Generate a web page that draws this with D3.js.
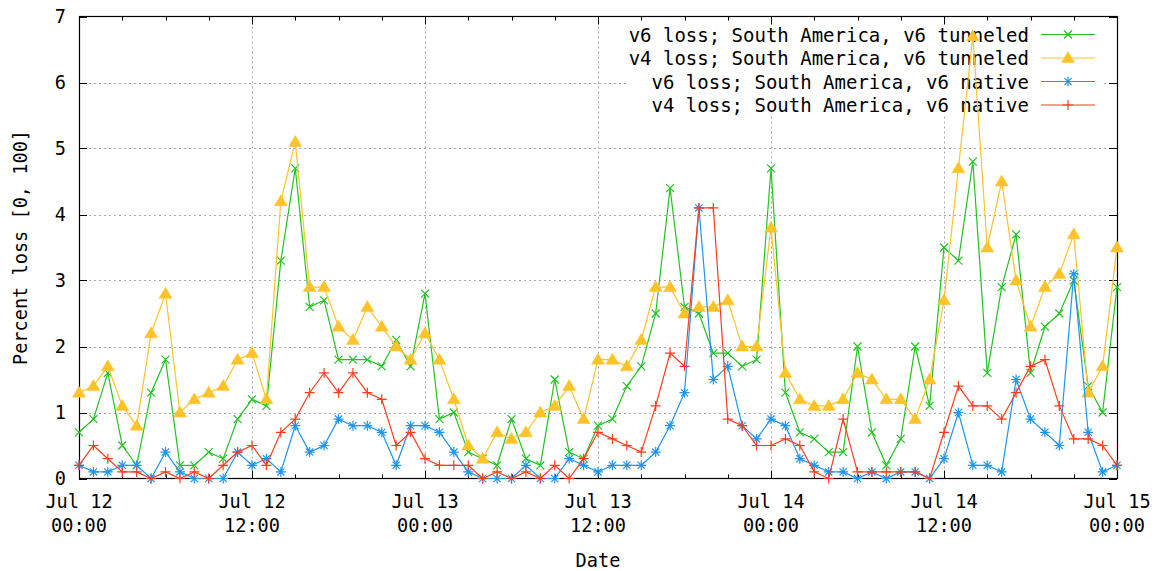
<!DOCTYPE html>
<html>
<head>
<meta charset="utf-8">
<script src="https://cdn.jsdelivr.net/npm/d3@7"></script>
<style>
  body { margin: 0; background: #fff; }
  text { font-family: "DejaVu Sans Mono", monospace; font-size: 18.6px; fill: #000; }
  .key text { font-size: 19px; }
</style>
</head>
<body>
<div id="graph"></div>
<script>
// hourly samples, Jul 12 00:00 -> Jul 15 00:00
const v6Tunneled = [0.7, 0.9, 1.6, 0.5, 0.2, 1.3, 1.8, 0.2, 0.2, 0.4, 0.3, 0.9, 1.2,
  1.1, 3.3, 4.7, 2.6, 2.7, 1.8, 1.8, 1.8, 1.7, 2.1, 1.7, 2.8,
  0.9, 1.0, 0.4, 0.3, 0.2, 0.9, 0.3, 0.2, 1.5, 0.4, 0.3, 0.8,
  0.9, 1.4, 1.7, 2.5, 4.4, 2.6, 2.5, 1.9, 1.9, 1.7, 1.8, 4.7,
  1.3, 0.7, 0.6, 0.4, 0.4, 2.0, 0.7, 0.2, 0.6, 2.0, 1.1, 3.5,
  3.3, 4.8, 1.6, 2.9, 3.7, 1.6, 2.3, 2.5, 3.0, 1.4, 1.0, 2.9];

const v4Tunneled = [1.3, 1.4, 1.7, 1.1, 0.8, 2.2, 2.8, 1.0, 1.2, 1.3, 1.4, 1.8, 1.9,
  1.2, 4.2, 5.1, 2.9, 2.9, 2.3, 2.1, 2.6, 2.3, 2.0, 1.8, 2.2,
  1.8, 1.2, 0.5, 0.3, 0.7, 0.6, 0.7, 1.0, 1.1, 1.4, 0.9, 1.8,
  1.8, 1.7, 2.1, 2.9, 2.9, 2.5, 2.6, 2.6, 2.7, 2.0, 2.0, 3.8,
  1.6, 1.2, 1.1, 1.1, 1.2, 1.6, 1.5, 1.2, 1.2, 0.9, 1.5, 2.7,
  4.7, 6.7, 3.5, 4.5, 3.0, 2.3, 2.9, 3.1, 3.7, 1.3, 1.7, 3.5];

const v6Native = [0.2, 0.1, 0.1, 0.2, 0.2, 0, 0.4, 0.1, 0, 0, 0, 0.4, 0.2,
  0.3, 0.1, 0.8, 0.4, 0.5, 0.9, 0.8, 0.8, 0.7, 0.2, 0.8, 0.8,
  0.7, 0.4, 0.1, 0, 0, 0, 0.2, 0, 0, 0.3, 0.2, 0.1,
  0.2, 0.2, 0.2, 0.4, 0.8, 1.3, 4.1, 1.5, 1.7, 0.8, 0.6, 0.9,
  0.8, 0.3, 0.2, 0.1, 0.1, 0, 0.1, 0, 0.1, 0.1, 0, 0.3,
  1.0, 0.2, 0.2, 0.1, 1.5, 0.9, 0.7, 0.5, 3.1, 0.7, 0.1, 0.2];

const v4Native = [0.2, 0.5, 0.3, 0.1, 0.1, 0, 0.1, 0, 0.1, 0, 0.2, 0.4, 0.5,
  0.2, 0.7, 0.9, 1.3, 1.6, 1.3, 1.6, 1.3, 1.2, 0.5, 0.7, 0.3,
  0.2, 0.2, 0.2, 0, 0.1, 0, 0.1, 0, 0.2, 0, 0.3, 0.7,
  0.6, 0.5, 0.4, 1.1, 1.9, 1.7, 4.1, 4.1, 0.9, 0.8, 0.5, 0.5,
  0.6, 0.5, 0.1, 0, 0.9, 0.1, 0.1, 0.1, 0.1, 0.1, 0, 0.7,
  1.4, 1.1, 1.1, 0.9, 1.3, 1.7, 1.8, 1.1, 0.6, 0.6, 0.5, 0.2];

const seriesNames = [
  "v6 loss; South America, v6 tunneled",
  "v4 loss; South America, v6 tunneled",
  "v6 loss; South America, v6 native",
  "v4 loss; South America, v6 native"
];
const seriesValues = [v6Tunneled, v4Tunneled, v6Native, v4Native];
const seriesColors = ["#22c322", "#ffc32a", "#1e95f0", "#ff3c1e"];
const seriesMarks = ["cross", "triangle", "star", "plus"];

const yTicks = [0, 1, 2, 3, 4, 5, 6, 7];

const start = new Date(Date.UTC(2010, 6, 12));
const end = new Date(Date.UTC(2010, 6, 15));
const hours = d3.utcHour.range(start, d3.utcHour.offset(end, 1));

const width = 1156;
const height = 571;
const pLeft = 79, pRight = 1117, pTop = 16.5, pBottom = 478.5;

const svg = d3.select("#graph")
              .append("svg")
              .attr("width", width)
              .attr("height", height);

const xScale = d3.scaleUtc().domain([start, end]).range([pLeft, pRight]);
const yScale = d3.scaleLinear().domain([0, 7]).range([pBottom, pTop]);

const majorX = d3.utcHour.every(12).range(start, d3.utcHour.offset(end, 1));
const minorX = d3.utcHour.every(3).range(start, d3.utcHour.offset(end, 1));

// grid
const grid = svg.append("g")
                .attr("stroke", "#a8a8a8")
                .attr("stroke-width", 1)
                .attr("stroke-dasharray", "2,3");
grid.selectAll(".gy")
    .data(yTicks.slice(1, -1))
    .enter()
    .append("line")
    .attr("x1", pLeft).attr("x2", pRight)
    .attr("y1", d => Math.round(yScale(d)) + 0.5)
    .attr("y2", d => Math.round(yScale(d)) + 0.5);
grid.selectAll(".gx")
    .data(majorX.slice(1, -1))
    .enter()
    .append("line")
    .attr("y1", pTop).attr("y2", pBottom)
    .attr("x1", d => Math.round(xScale(d)) + 0.5)
    .attr("x2", d => Math.round(xScale(d)) + 0.5);

// key background hides the grid
svg.append("rect")
   .attr("x", 627).attr("y", pTop + 1)
   .attr("width", 476).attr("height", 96)
   .attr("fill", "#fff");

// ticks (inward, mirrored)
const ticks = svg.append("g").attr("stroke", "#000").attr("stroke-width", 1);
yTicks.forEach(v => {
  const yy = Math.round(yScale(v)) + 0.5;
  ticks.append("line").attr("x1", pLeft).attr("x2", pLeft + 8).attr("y1", yy).attr("y2", yy);
  ticks.append("line").attr("x1", pRight - 8).attr("x2", pRight).attr("y1", yy).attr("y2", yy);
});
minorX.forEach((d, i) => {
  const xx = Math.round(xScale(d)) + 0.5;
  const len = i % 4 === 0 ? 8 : 4;
  ticks.append("line").attr("x1", xx).attr("x2", xx).attr("y1", pBottom).attr("y2", pBottom - len);
  ticks.append("line").attr("x1", xx).attr("x2", xx).attr("y1", pTop).attr("y2", pTop + len);
});

// y tick labels
svg.append("g")
   .selectAll("text")
   .data(yTicks)
   .enter()
   .append("text")
   .attr("x", pLeft - 13)
   .attr("y", d => yScale(d))
   .attr("dy", "0.36em")
   .style("text-anchor", "end")
   .text(d => d);

// x tick labels, two lines
const fmtDay = d3.utcFormat("%b %d");
const fmtTime = d3.utcFormat("%H:%M");
const xl = svg.append("g")
              .selectAll("text")
              .data(majorX)
              .enter()
              .append("text")
              .attr("x", d => xScale(d))
              .style("text-anchor", "middle");
xl.append("tspan").attr("x", d => xScale(d)).attr("y", 508).text(d => fmtDay(d));
xl.append("tspan").attr("x", d => xScale(d)).attr("y", 532).text(d => fmtTime(d));

svg.append("text")
   .attr("x", (pLeft + pRight) / 2)
   .attr("y", 567)
   .style("text-anchor", "middle")
   .text("Date");

svg.append("text")
   .attr("transform", `translate(27, ${(pTop + pBottom) / 2}) rotate(-90)`)
   .style("text-anchor", "middle")
   .text("Percent loss [0, 100]");

// border
svg.append("rect")
   .attr("x", pLeft + 0.5).attr("y", pTop)
   .attr("width", pRight - pLeft).attr("height", pBottom - pTop)
   .attr("fill", "none")
   .attr("stroke", "#000")
   .attr("stroke-width", 1.2);

const markPath = {
  cross: "M-4,-4L4,4M-4,4L4,-4",
  triangle: "M0,-6.5L6.5,4.5L-6.5,4.5Z",
  star: "M-5,0H5M0,-5V5M-3.6,-3.6L3.6,3.6M-3.6,3.6L3.6,-3.6",
  plus: "M-5,0H5M0,-5V5"
};

function drawMark(g, type, color) {
  g.append("path")
   .attr("d", markPath[type])
   .attr("fill", type === "triangle" ? color : "none")
   .attr("stroke", color)
   .attr("stroke-width", type === "triangle" ? 0.5 : 1.2);
}

// key
const key = svg.append("g").attr("class", "key");
seriesNames.forEach((name, i) => {
  const ky = 34.5 + i * 23.5;
  key.append("text")
     .attr("x", 1029)
     .attr("y", ky + 7)
     .style("text-anchor", "end")
     .text(name);
  key.append("line")
     .attr("x1", 1041).attr("x2", 1095)
     .attr("y1", ky).attr("y2", ky)
     .attr("stroke", seriesColors[i])
     .attr("stroke-width", 1.2);
  drawMark(key.append("g").attr("transform", `translate(1068, ${ky})`), seriesMarks[i], seriesColors[i]);
});

// series
const line = d3.line()
               .x((d, i) => xScale(hours[i]))
               .y(d => yScale(d));

seriesValues.forEach((vals, s) => {
  const g = svg.append("g");
  g.append("path")
   .datum(vals)
   .attr("d", line)
   .attr("fill", "none")
   .attr("stroke", seriesColors[s])
   .attr("stroke-width", 1.2);
  g.selectAll(".m")
   .data(vals)
   .enter()
   .append("g")
   .attr("transform", (d, i) => `translate(${xScale(hours[i])}, ${yScale(d)})`)
   .each(function() { drawMark(d3.select(this), seriesMarks[s], seriesColors[s]); });
});
</script>
</body>
</html>
